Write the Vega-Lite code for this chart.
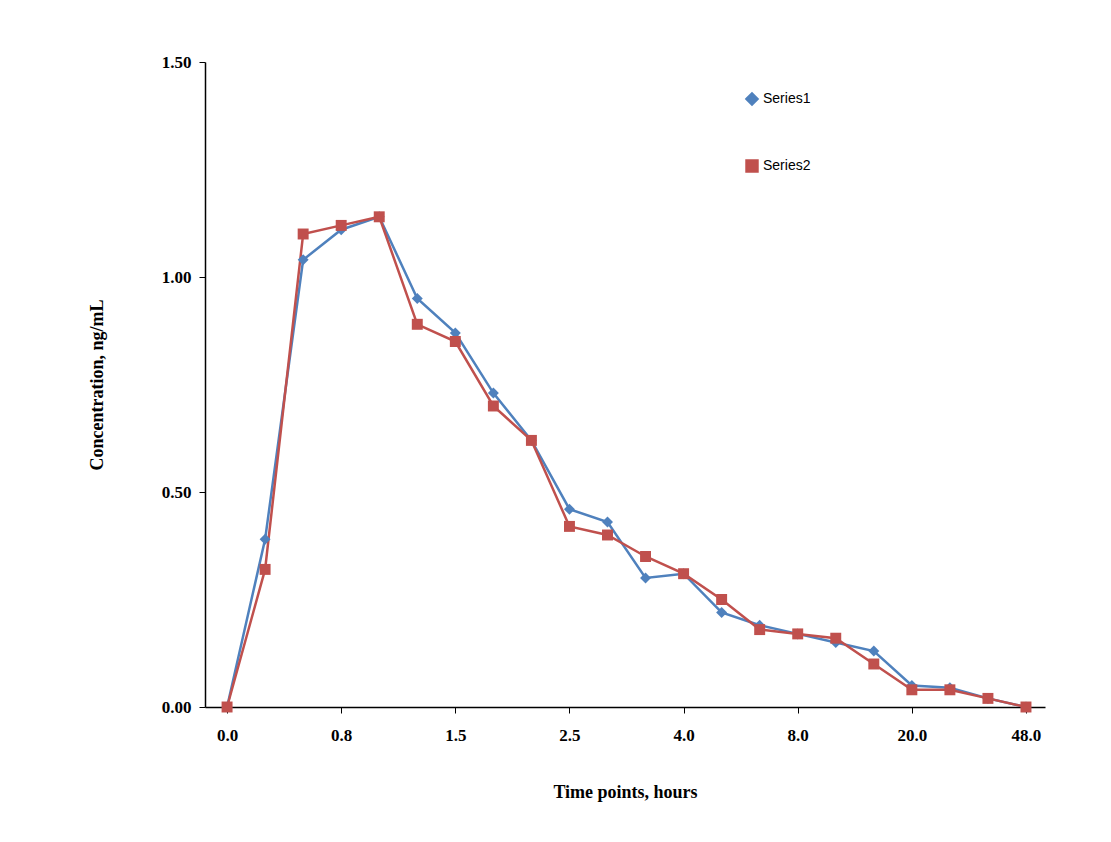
{
  "$schema": "https://vega.github.io/schema/vega-lite/v6.json",
  "width": 840,
  "height": 645,
  "autosize": "none",
  "padding": {"left": 205, "top": 62, "right": 66, "bottom": 135},
  "background": "white",
  "config": {
    "view": {"stroke": null},
    "axis": {"grid": false, "domainColor": "black", "tickColor": "black", "labelColor": "black", "titleColor": "black", "labelFont": "Liberation Serif", "titleFont": "Liberation Serif", "labelFontWeight": "bold", "titleFontWeight": "bold", "labelFontSize": 17, "titleFontSize": 18, "domainWidth": 1.5}
  },
  "data": {
    "values": [
      {"idx": 0, "series": "Series1", "conc": 0},
      {"idx": 1, "series": "Series1", "conc": 0.39},
      {"idx": 2, "series": "Series1", "conc": 1.04},
      {"idx": 3, "series": "Series1", "conc": 1.11},
      {"idx": 4, "series": "Series1", "conc": 1.14},
      {"idx": 5, "series": "Series1", "conc": 0.95},
      {"idx": 6, "series": "Series1", "conc": 0.87},
      {"idx": 7, "series": "Series1", "conc": 0.73},
      {"idx": 8, "series": "Series1", "conc": 0.62},
      {"idx": 9, "series": "Series1", "conc": 0.46},
      {"idx": 10, "series": "Series1", "conc": 0.43},
      {"idx": 11, "series": "Series1", "conc": 0.30},
      {"idx": 12, "series": "Series1", "conc": 0.31},
      {"idx": 13, "series": "Series1", "conc": 0.22},
      {"idx": 14, "series": "Series1", "conc": 0.19},
      {"idx": 15, "series": "Series1", "conc": 0.17},
      {"idx": 16, "series": "Series1", "conc": 0.15},
      {"idx": 17, "series": "Series1", "conc": 0.13},
      {"idx": 18, "series": "Series1", "conc": 0.05},
      {"idx": 19, "series": "Series1", "conc": 0.045},
      {"idx": 20, "series": "Series1", "conc": 0.02},
      {"idx": 21, "series": "Series1", "conc": 0.0},
      {"idx": 0, "series": "Series2", "conc": 0},
      {"idx": 1, "series": "Series2", "conc": 0.32},
      {"idx": 2, "series": "Series2", "conc": 1.10},
      {"idx": 3, "series": "Series2", "conc": 1.12},
      {"idx": 4, "series": "Series2", "conc": 1.14},
      {"idx": 5, "series": "Series2", "conc": 0.89},
      {"idx": 6, "series": "Series2", "conc": 0.85},
      {"idx": 7, "series": "Series2", "conc": 0.70},
      {"idx": 8, "series": "Series2", "conc": 0.62},
      {"idx": 9, "series": "Series2", "conc": 0.42},
      {"idx": 10, "series": "Series2", "conc": 0.40},
      {"idx": 11, "series": "Series2", "conc": 0.35},
      {"idx": 12, "series": "Series2", "conc": 0.31},
      {"idx": 13, "series": "Series2", "conc": 0.25},
      {"idx": 14, "series": "Series2", "conc": 0.18},
      {"idx": 15, "series": "Series2", "conc": 0.17},
      {"idx": 16, "series": "Series2", "conc": 0.16},
      {"idx": 17, "series": "Series2", "conc": 0.10},
      {"idx": 18, "series": "Series2", "conc": 0.04},
      {"idx": 19, "series": "Series2", "conc": 0.04},
      {"idx": 20, "series": "Series2", "conc": 0.02},
      {"idx": 21, "series": "Series2", "conc": 0.0}
    ]
  },
  "mark": {"type": "line", "strokeWidth": 2.5, "point": {"size": 120, "filled": true, "opacity": 1}},
  "encoding": {
    "x": {
      "field": "idx", "type": "quantitative",
      "scale": {"domain": [-0.58, 21.5], "nice": false, "zero": false},
      "axis": {"values": [0, 3, 6, 9, 12, 15, 18, 21], "labelExpr": "['0.0','0.8','1.5','2.5','4.0','8.0','20.0','48.0'][datum.value/3]", "title": "Time points, hours", "titlePadding": 40, "labelPadding": 14, "tickSize": 6}
    },
    "y": {
      "field": "conc", "type": "quantitative",
      "scale": {"domain": [0, 1.5], "nice": false},
      "axis": {"values": [0, 0.5, 1.0, 1.5], "format": ".2f", "title": "Concentration, ng/mL", "titlePadding": 55, "labelPadding": 8, "tickSize": 6}
    },
    "color": {
      "field": "series", "type": "nominal",
      "scale": {"domain": ["Series1", "Series2"], "range": ["#4F81BD", "#C0504D"]},
      "legend": {"title": null, "orient": "none", "legendX": 540, "legendY": 30, "rowPadding": 45, "labelFont": "Liberation Sans", "labelFontSize": 14, "labelColor": "black", "symbolSize": 120, "symbolStrokeWidth": 2.5}
    },
    "shape": {
      "field": "series", "type": "nominal",
      "scale": {"domain": ["Series1", "Series2"], "range": ["diamond", "square"]},
      "legend": null
    }
  }
}
